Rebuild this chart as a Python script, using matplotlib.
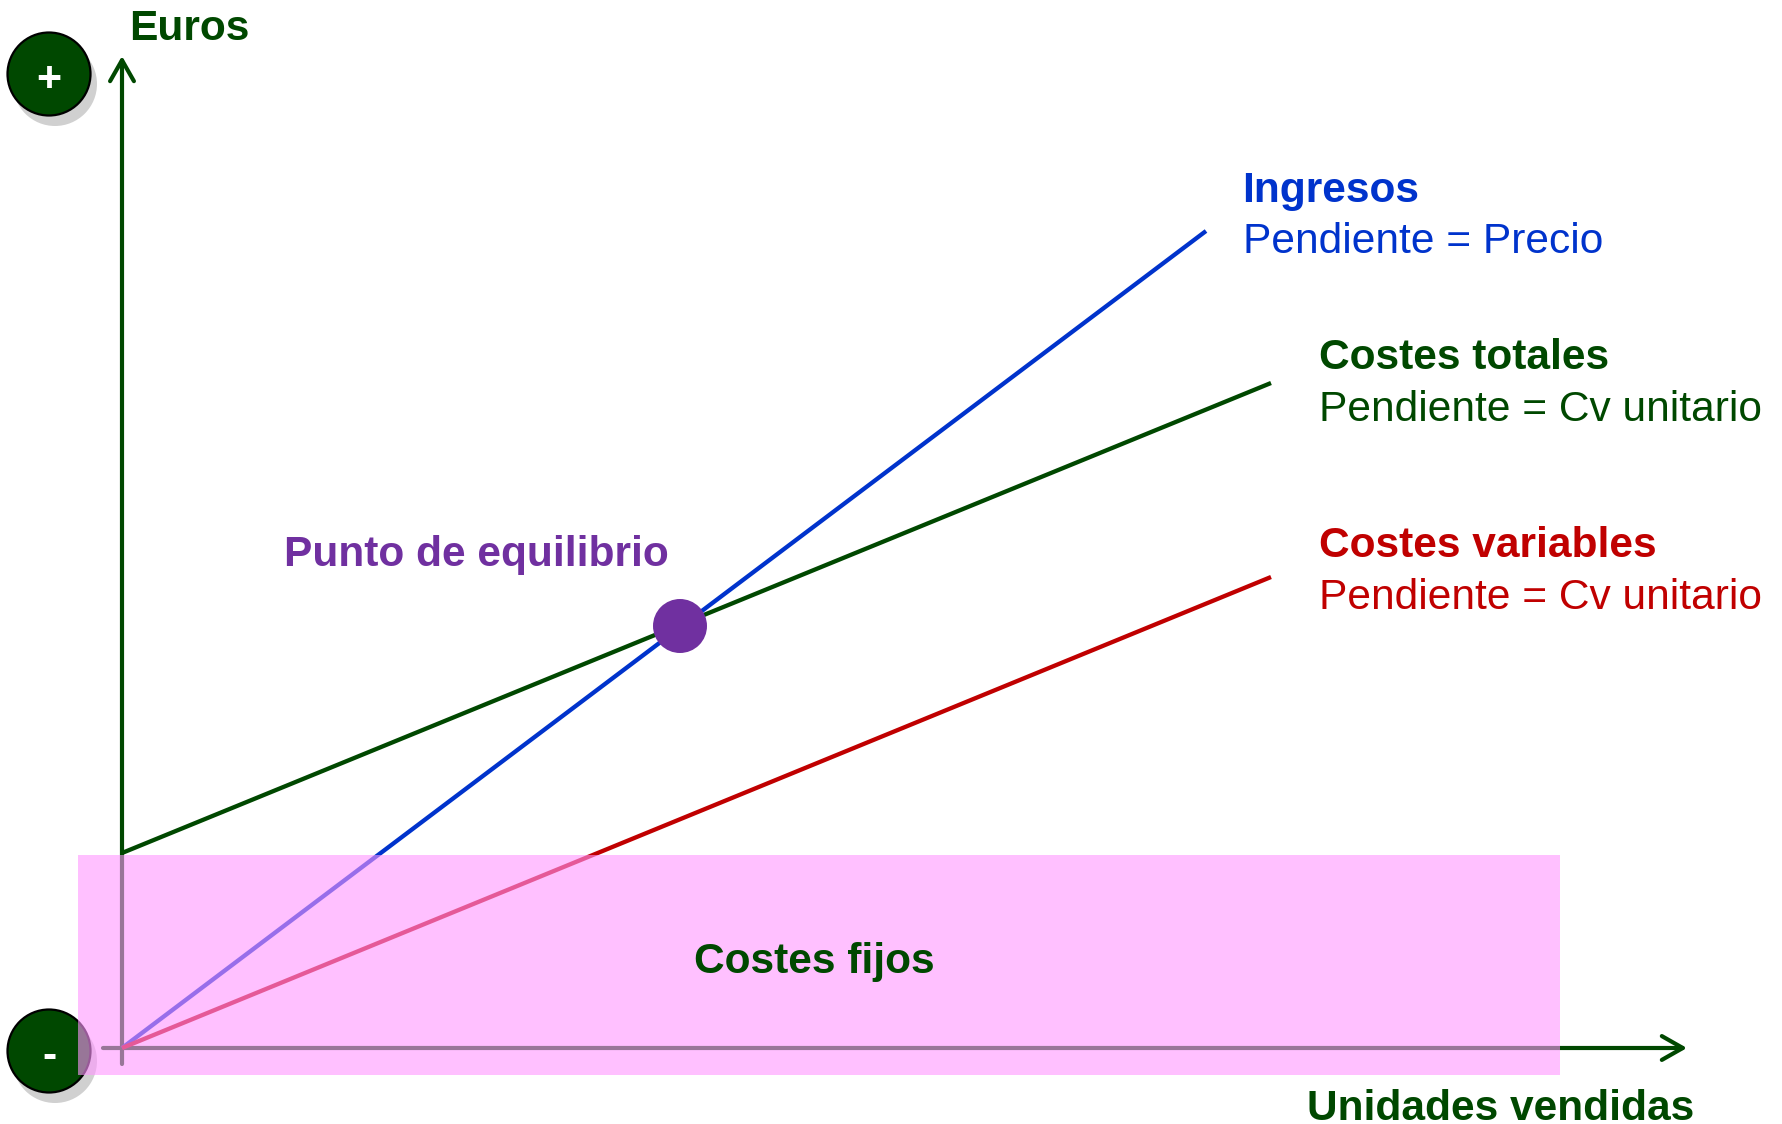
import matplotlib
matplotlib.use('Agg')
import matplotlib.pyplot as plt
from matplotlib.patches import Circle, Rectangle

plt.rcParams['font.family'] = ['Liberation Sans', 'DejaVu Sans']

# Values (units on x, euros on y)
ingresos_x = [0, 1084]
ingresos_y = [0, 817]
totales_x = [0, 1149]
totales_y = [195, 665]
variables_x = [0, 1149]
variables_y = [0, 471]
fijos = 195
equilibrio_x = 558
equilibrio_y = 422

GREEN = '#004800'
BLUE = '#0033CC'
RED = '#C00000'
PURPLE = '#7030A0'

# 1 data unit = 1 pixel, origin where the axes cross
fig = plt.figure(figsize=(17.83, 11.24), dpi=100)
ax = fig.add_axes([0, 0, 1, 1])
ax.set_xlim(-122, 1661)
ax.set_ylim(-76, 1048)
ax.axis('off')

# Axes with open arrow heads
arrow = dict(arrowstyle='->,head_length=0.58,head_width=0.33', color=GREEN, lw=3.0,
             shrinkA=0, shrinkB=0, mutation_scale=26, capstyle='round', joinstyle='round')
ax.annotate('', xy=(0, 992), xytext=(0, -16), arrowprops=arrow, zorder=2)
ax.annotate('', xy=(1565, 0), xytext=(-19, 0), arrowprops=arrow, zorder=2)

# Plus / minus badges
for cy, sign, dy in [(974, '+', -17), (-3, '-', -17)]:
    ax.add_patch(Circle((-67, cy - 10), 42, color='#D0D0D0', lw=0, zorder=1))
    ax.add_patch(Circle((-73, cy), 41.5, fc=GREEN, ec='black', lw=1.6, zorder=1.5))
    ax.text(-73, cy + dy, sign, color='white', fontsize=31, fontweight='bold',
            ha='center', va='baseline', zorder=1.6)

# Lines
ax.plot(totales_x, totales_y, color=GREEN, lw=3.1, zorder=3, solid_capstyle='butt')
ax.plot(ingresos_x, ingresos_y, color=BLUE, lw=3.1, zorder=3, solid_capstyle='butt')
ax.plot(variables_x, variables_y, color=RED, lw=3.1, zorder=3, solid_capstyle='butt')

# Fixed costs band sits over the lines
ax.add_patch(Rectangle((-44, -27), 1482, 27 + fijos - 2, fc='#FF96FF', ec='none',
                       alpha=0.6, zorder=4))

# Break-even point
ax.add_patch(Circle((equilibrio_x, equilibrio_y), 27, color=PURPLE, lw=0, zorder=5))

fs = 30.6
ax.text(7, 1008, 'Euros', color=GREEN, fontsize=fs, fontweight='bold', va='baseline')
ax.text(1185, -72, 'Unidades vendidas', color=GREEN, fontsize=fs, fontweight='bold', va='baseline')
ax.text(572, 75, 'Costes fijos', color=GREEN, fontsize=fs, fontweight='bold', va='baseline', zorder=6)
ax.text(162, 482, 'Punto de equilibrio', color=PURPLE, fontsize=fs, fontweight='bold', va='baseline')
ax.text(1120, 846, 'Ingresos', color=BLUE, fontsize=fs, fontweight='bold', va='baseline')
ax.text(1121, 795, 'Pendiente = Precio', color=BLUE, fontsize=fs, va='baseline')
ax.text(1197, 679, 'Costes totales', color=GREEN, fontsize=fs, fontweight='bold', va='baseline')
ax.text(1197, 627, 'Pendiente = Cv unitario', color=GREEN, fontsize=fs, va='baseline')
ax.text(1197, 491, 'Costes variables', color=RED, fontsize=fs, fontweight='bold', va='baseline')
ax.text(1197, 439, 'Pendiente = Cv unitario', color=RED, fontsize=fs, va='baseline')

fig.savefig('out.png', dpi=100)
